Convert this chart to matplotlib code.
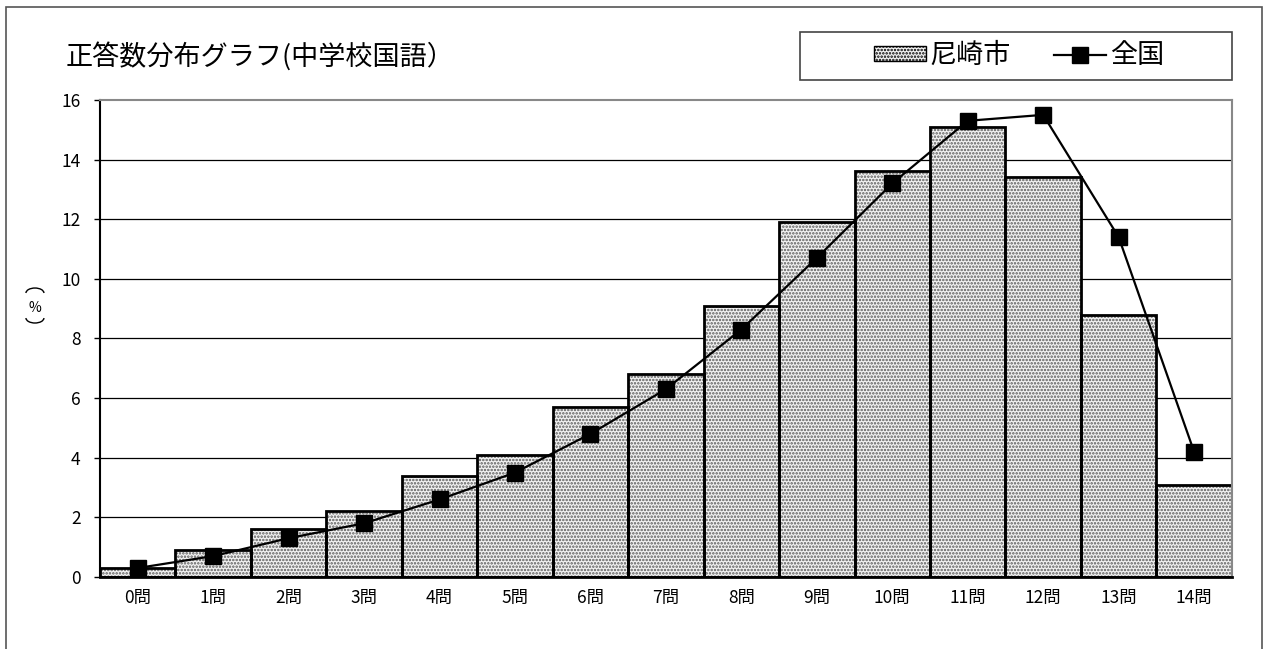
import numpy as np
import matplotlib
matplotlib.use('Agg')
import matplotlib.pyplot as plt
from matplotlib.patches import Rectangle, Patch, Arc
from matplotlib.lines import Line2D

plt.rcParams['font.family'] = ['Noto Sans CJK JP', 'DejaVu Sans']
plt.rcParams['hatch.linewidth'] = 1.2

# データ
categories = ['0問', '1問', '2問', '3問', '4問', '5問', '6問', '7問',
              '8問', '9問', '10問', '11問', '12問', '13問', '14問']
amagasaki = [0.3, 0.9, 1.6, 2.2, 3.4, 4.1, 5.7, 6.8, 9.1, 11.9, 13.6, 15.1, 13.4, 8.8, 3.1]
zenkoku = [0.3, 0.7, 1.3, 1.8, 2.6, 3.5, 4.8, 6.3, 8.3, 10.7, 13.2, 15.3, 15.5, 11.4, 4.2]
yticks = [0, 2, 4, 6, 8, 10, 12, 14, 16]

fig = plt.figure(figsize=(12.66, 6.49), dpi=100)
ax = fig.add_axes([0.079, 0.111, 0.894, 0.735])

x = np.arange(len(categories))

# グリッド
for v in yticks[1:-1]:
    ax.axhline(v, color='black', lw=0.9, zorder=0)

# 棒グラフ（点模様）
ax.bar(x, amagasaki, width=1.0, color='#f2f2f2', edgecolor='#5a5a5a',
       hatch='.....', lw=0, zorder=1)
ax.bar(x, amagasaki, width=1.0, fill=False, edgecolor='black', lw=2, zorder=2)

# 折れ線
ax.plot(x, zenkoku, color='black', lw=1.6, marker='s', markersize=11.5,
        markerfacecolor='black', zorder=3)

ax.set_xlim(-0.5, 14.5)
ax.set_ylim(0, 16)
ax.set_yticks(yticks)
ax.set_xticks(x)
ax.set_xticklabels(categories)
ax.tick_params(axis='x', length=0, pad=9, labelsize=12.5)
ax.tick_params(axis='y', length=4, width=1, pad=10, labelsize=12.5)

ax.spines['left'].set_linewidth(1.5)
ax.spines['bottom'].set_linewidth(2)
ax.spines['top'].set_color('#888888')
ax.spines['right'].set_color('#888888')
ax.spines['top'].set_linewidth(1.5)
ax.spines['right'].set_linewidth(1.5)

# 縦書きの軸ラベル（%）: 括弧は縦書き用の弧で描く
fig.patches.append(Arc((0.0276, 0.5485), 0.0142, 0.0154, theta1=0, theta2=180,
                       transform=fig.transFigure, color='black', lw=1))
fig.text(0.0276, 0.525, '%', ha='center', va='center', fontsize=10)
fig.patches.append(Arc((0.0276, 0.510), 0.0142, 0.0154, theta1=180, theta2=360,
                       transform=fig.transFigure, color='black', lw=1))

# タイトル
fig.text(0.052, 0.913, '正答数分布グラフ(中学校国語）', fontsize=19.5, va='center')

# 凡例
fig.patches.append(Rectangle((0.632, 0.877), 0.341, 0.074, transform=fig.transFigure,
                             fill=False, edgecolor='#444444', lw=1.2))
handles = [Patch(facecolor='#f2f2f2', edgecolor='black', hatch='.....', lw=1),
           Line2D([0], [0], color='black', lw=1.6, marker='s', markersize=11,
                  markerfacecolor='black')]
leg = fig.legend(handles, ['尼崎市', '全国'], loc='center',
                 bbox_to_anchor=(0.805, 0.914), ncol=2, fontsize=19.5,
                 frameon=False, handlelength=1.9, handleheight=0.45,
                 handletextpad=0.15, columnspacing=1.6)

# 外枠
fig.patches.append(Rectangle((0.005, -0.05), 0.992, 1.039, transform=fig.transFigure,
                             fill=False, edgecolor='#555555', lw=1.2))

fig.savefig('out.png', dpi=100)
